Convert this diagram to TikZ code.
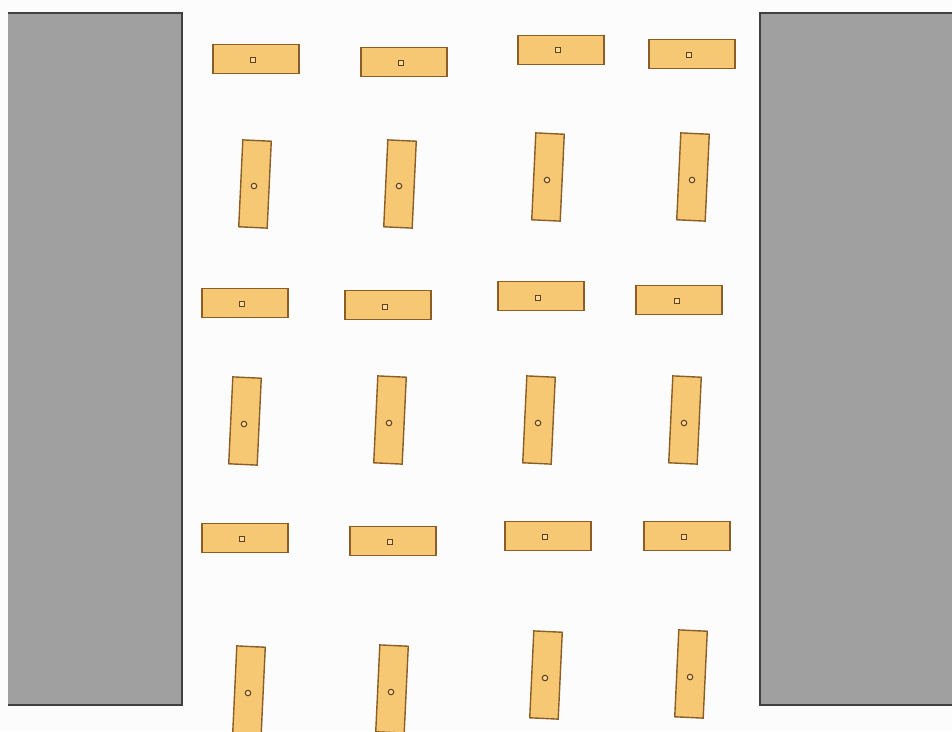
\documentclass[tikz,border=0pt]{standalone}
\usetikzlibrary{positioning}
\definecolor{PlankFill}{RGB}{246,200,115}
\definecolor{PlankEdge}{RGB}{139,94,40}
\definecolor{WallFill}{RGB}{160,160,160}
\definecolor{WallEdge}{RGB}{64,64,64}
\tikzset{
  flat/.style={draw=PlankEdge,fill=PlankFill,line width=0.8pt,
    minimum width=1.72cm,minimum height=0.58cm,inner sep=0pt},
  upright/.style={draw=PlankEdge,fill=PlankFill,line width=0.8pt,
    minimum width=0.57cm,minimum height=1.74cm,inner sep=0pt,rotate=-2.7},
  pin/.style={draw=PlankEdge!70!black,fill=PlankFill!70,line width=0.6pt,
    minimum size=0.09cm,inner sep=0pt},
  pivot/.style={circle,draw=PlankEdge!70!black,fill=PlankFill!70,line width=0.6pt,
    minimum size=0.11cm,inner sep=0pt},
  wall/.style={fill=WallFill},
  wallline/.style={draw=WallEdge,line width=0.8pt}
}
\begin{document}
\begin{tikzpicture}[x=0.02cm,y=-0.02cm]
  \useasboundingbox (0,0) rectangle (952,731);
  \fill[white!99!black] (0,0) rectangle (952,731);
  % side walls
  \fill[wall] (8,13) rectangle (182,705);
  \draw[wallline] (8,13) -- (182,13) -- (182,705) -- (8,705);
  \fill[wall] (760,13) rectangle (952,705);
  \draw[wallline] (952,13) -- (760,13) -- (760,705) -- (952,705);
  % row 1
  \node[flat] (a1) at (256,59) {};
  \node[flat] (a2) at (404,62) {};
  \node[flat] (a3) at (561,50) {};
  \node[flat] (a4) at (692,54) {};
  \node[pin] (pa1) at (253,60) {};
  \node[pin] (pa2) at (401,63) {};
  \node[pin] (pa3) at (558,50) {};
  \node[pin] (pa4) at (689,55) {};
  % row 2
  \node[upright] (b1) at (255,184) {};
  \node[upright] (b2) at (400,184) {};
  \node[upright] (b3) at (548,177) {};
  \node[upright] (b4) at (693,177) {};
  \node[pivot] (pb1) at (254,186) {};
  \node[pivot] (pb2) at (399,186) {};
  \node[pivot] (pb3) at (547,180) {};
  \node[pivot] (pb4) at (692,180) {};
  % row 3
  \node[flat] (c1) at (245,303) {};
  \node[flat] (c2) at (388,305) {};
  \node[flat] (c3) at (541,296) {};
  \node[flat] (c4) at (679,300) {};
  \node[pin] (pc1) at (242,304) {};
  \node[pin] (pc2) at (385,307) {};
  \node[pin] (pc3) at (538,298) {};
  \node[pin] (pc4) at (677,301) {};
  % row 4
  \node[upright] (d1) at (245,421) {};
  \node[upright] (d2) at (390,420) {};
  \node[upright] (d3) at (539,420) {};
  \node[upright] (d4) at (685,420) {};
  \node[pivot] (pd1) at (244,424) {};
  \node[pivot] (pd2) at (389,423) {};
  \node[pivot] (pd3) at (538,423) {};
  \node[pivot] (pd4) at (684,423) {};
  % row 5
  \node[flat] (e1) at (245,538) {};
  \node[flat] (e2) at (393,541) {};
  \node[flat] (e3) at (548,536) {};
  \node[flat] (e4) at (687,536) {};
  \node[pin] (pe1) at (242,539) {};
  \node[pin] (pe2) at (390,542) {};
  \node[pin] (pe3) at (545,537) {};
  \node[pin] (pe4) at (684,537) {};
  % row 6
  \node[upright] (f1) at (249,690) {};
  \node[upright] (f2) at (392,689) {};
  \node[upright] (f3) at (546,675) {};
  \node[upright] (f4) at (691,674) {};
  \node[pivot] (pf1) at (248,693) {};
  \node[pivot] (pf2) at (391,692) {};
  \node[pivot] (pf3) at (545,678) {};
  \node[pivot] (pf4) at (690,677) {};
\end{tikzpicture}
\end{document}
